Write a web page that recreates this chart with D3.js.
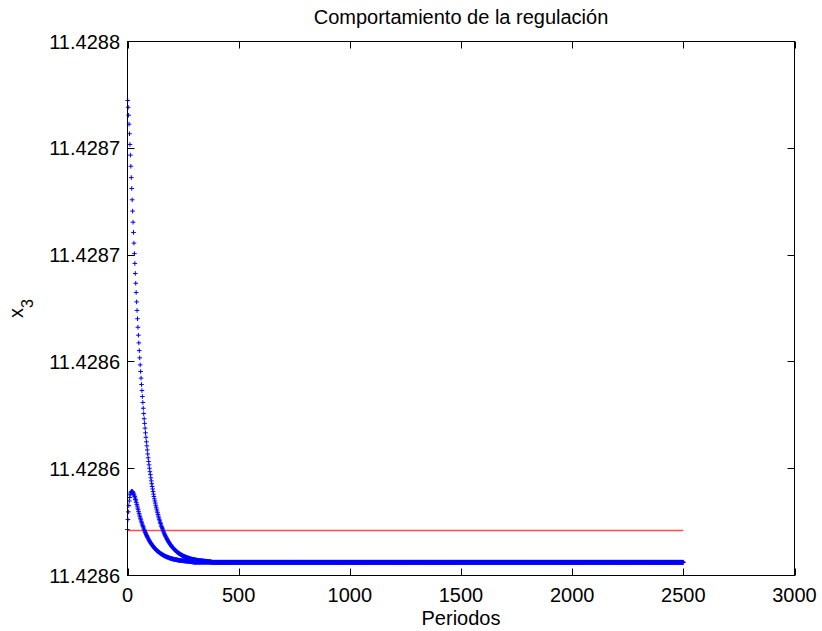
<!DOCTYPE html>
<html>
<head>
<meta charset="utf-8">
<script src="https://cdn.jsdelivr.net/npm/d3@7"></script>
<style>
  html, body { margin: 0; padding: 0; background: #fff; }
  svg { display: block; }
  text { font-family: "Liberation Sans", Arial, Helvetica, sans-serif; fill: #000; }
</style>
</head>
<body>
<svg id="chart" width="822" height="631"></svg>
<script>
// ---------------- DATA ----------------
const titleText = "Comportamiento de la regulación";
const xLabelText = "Periodos";
const xTicks = [0, 500, 1000, 1500, 2000, 2500, 3000];
const xTickLabels = ["0", "500", "1000", "1500", "2000", "2500", "3000"];
const yTicks = [11.42855, 11.4286, 11.42865, 11.4287, 11.42875, 11.4288];
const yTickLabels = ["11.4286", "11.4286", "11.4286", "11.4287", "11.4287", "11.4288"];
const xDomain = [0, 3000];
const yDomain = [11.42855, 11.4288];

// x3 at odd periods 1,3,5,... (upper branch)
const upperBranch = [
 11.4287724, 11.4287692, 11.4287655, 11.4287613, 11.4287568, 11.4287518, 11.4287468, 11.4287416, 11.4287363, 11.4287312,
 11.4287259, 11.4287206, 11.4287154, 11.4287106, 11.4287056, 11.4287007, 11.4286961, 11.4286914, 11.4286868, 11.4286825,
 11.4286781, 11.4286741, 11.4286702, 11.4286662, 11.4286625, 11.4286589, 11.4286553, 11.4286519, 11.4286486, 11.4286455,
 11.4286424, 11.4286394, 11.4286366, 11.4286338, 11.4286310, 11.4286283, 11.4286258, 11.4286234, 11.4286212, 11.4286190,
 11.4286168, 11.4286147, 11.4286126, 11.4286107, 11.4286088, 11.4286069, 11.4286051, 11.4286034, 11.4286018, 11.4286002,
 11.4285986, 11.4285972, 11.4285957, 11.4285943, 11.4285930, 11.4285917, 11.4285905, 11.4285893, 11.4285881, 11.4285870,
 11.4285859, 11.4285849, 11.4285839, 11.4285829, 11.4285820, 11.4285811, 11.4285802, 11.4285794, 11.4285786, 11.4285778,
 11.4285770, 11.4285763, 11.4285756, 11.4285749, 11.4285743, 11.4285736, 11.4285730, 11.4285724, 11.4285719, 11.4285713,
 11.4285708, 11.4285703, 11.4285698, 11.4285693, 11.4285688, 11.4285684, 11.4285680, 11.4285676, 11.4285672, 11.4285668,
 11.4285664, 11.4285661, 11.4285657, 11.4285654, 11.4285651, 11.4285647, 11.4285644, 11.4285642, 11.4285639, 11.4285636,
 11.4285634, 11.4285631, 11.4285629, 11.4285626, 11.4285624, 11.4285622, 11.4285620, 11.4285618, 11.4285616, 11.4285614,
 11.4285612, 11.4285610, 11.4285609, 11.4285607, 11.4285605, 11.4285604, 11.4285602, 11.4285601, 11.4285600, 11.4285598,
 11.4285597, 11.4285596, 11.4285595, 11.4285594, 11.4285592, 11.4285591, 11.4285590, 11.4285589, 11.4285588, 11.4285587,
 11.4285587, 11.4285586, 11.4285585, 11.4285584, 11.4285583, 11.4285583, 11.4285582, 11.4285581, 11.4285580, 11.4285580,
 11.4285579, 11.4285579, 11.4285578, 11.4285577, 11.4285577, 11.4285576, 11.4285576, 11.4285575, 11.4285575, 11.4285574,
 11.4285574, 11.4285574, 11.4285573, 11.4285573, 11.4285572, 11.4285572, 11.4285572, 11.4285571, 11.4285571, 11.4285571,
 11.4285570, 11.4285570, 11.4285570, 11.4285570, 11.4285569, 11.4285569, 11.4285569, 11.4285569, 11.4285568, 11.4285568,
 11.4285568, 11.4285568, 11.4285567, 11.4285567, 11.4285567, 11.4285567, 11.4285567, 11.4285566, 11.4285566, 11.4285566,
 11.4285566, 11.4285565, 11.4285565, 11.4285565, 11.4285565, 11.4285564, 11.4285564, 11.4285564, 11.4285563, 11.4285563
];

// x3 at even periods 0,2,4,... (lower branch)
const lowerBranch = [
 11.4285715, 11.4285762, 11.4285798, 11.4285827, 11.4285849, 11.4285865, 11.4285878, 11.4285886, 11.4285891, 11.4285893,
 11.4285894, 11.4285893, 11.4285890, 11.4285886, 11.4285881, 11.4285876, 11.4285870, 11.4285863, 11.4285856, 11.4285849,
 11.4285841, 11.4285833, 11.4285825, 11.4285816, 11.4285808, 11.4285799, 11.4285791, 11.4285783, 11.4285775, 11.4285768,
 11.4285761, 11.4285754, 11.4285747, 11.4285741, 11.4285735, 11.4285729, 11.4285723, 11.4285717, 11.4285712, 11.4285707,
 11.4285702, 11.4285697, 11.4285692, 11.4285687, 11.4285683, 11.4285679, 11.4285675, 11.4285671, 11.4285667, 11.4285663,
 11.4285660, 11.4285656, 11.4285653, 11.4285650, 11.4285647, 11.4285644, 11.4285641, 11.4285638, 11.4285635, 11.4285633,
 11.4285630, 11.4285628, 11.4285626, 11.4285624, 11.4285621, 11.4285619, 11.4285617, 11.4285615, 11.4285613, 11.4285612,
 11.4285610, 11.4285608, 11.4285607, 11.4285605, 11.4285604, 11.4285602, 11.4285601, 11.4285599, 11.4285598, 11.4285597,
 11.4285596, 11.4285594, 11.4285593, 11.4285592, 11.4285591, 11.4285590, 11.4285589, 11.4285588, 11.4285587, 11.4285586,
 11.4285586, 11.4285585, 11.4285584, 11.4285583, 11.4285582, 11.4285582, 11.4285581, 11.4285580, 11.4285580, 11.4285579,
 11.4285578, 11.4285578, 11.4285577, 11.4285577, 11.4285576, 11.4285576, 11.4285575, 11.4285575, 11.4285574, 11.4285574,
 11.4285574, 11.4285573, 11.4285573, 11.4285572, 11.4285572, 11.4285572, 11.4285571, 11.4285571, 11.4285571, 11.4285570,
 11.4285570, 11.4285570, 11.4285570, 11.4285569, 11.4285569, 11.4285569, 11.4285569, 11.4285568, 11.4285568, 11.4285568,
 11.4285568, 11.4285567, 11.4285567, 11.4285567, 11.4285567, 11.4285567, 11.4285566, 11.4285566, 11.4285566, 11.4285566,
 11.4285565, 11.4285565, 11.4285565, 11.4285565, 11.4285564, 11.4285564, 11.4285564, 11.4285563, 11.4285563
];

// settled value of x3 after the transient, and the last period plotted
const steadyValue = 11.4285562;
const lastPeriod = 2500;
// reference (set-point) line
const referenceValue = 11.4285715;
const referencePeriods = [0, 2500];

// ---------------- LAYOUT ----------------
const svg = d3.select("#chart");
const L = 127.5, R = 794.5, T = 41.5, B = 575.5;
const x = d3.scaleLinear().domain(xDomain).range([L, R]);
const y = d3.scaleLinear().domain(yDomain).range([B, T]);

// build the x3 series per period from the branches
const series = d3.range(0, lastPeriod + 1).map(t => {
  let v;
  if (t % 2 === 0) { const j = t / 2; v = j < lowerBranch.length ? lowerBranch[j] : steadyValue; }
  else { const i = (t - 1) / 2; v = i < upperBranch.length ? upperBranch[i] : steadyValue; }
  return { t, v };
});

svg.append("rect").attr("x", 0).attr("y", 0).attr("width", 822).attr("height", 631).attr("fill", "#fff");

const clipId = "plotclip";
svg.append("clipPath").attr("id", clipId).append("rect")
  .attr("x", L - 4).attr("y", T - 4).attr("width", R - L + 8).attr("height", B - T + 8);

const plot = svg.append("g").attr("clip-path", `url(#${clipId})`);

// reference line
plot.append("path")
  .datum(referencePeriods.map(p => ({ t: p, v: referenceValue })))
  .attr("d", d3.line().x(d => x(d.t)).y(d => Math.round(y(d.v)) + 0.5))
  .attr("fill", "none").attr("stroke", "#ff4d4d").attr("stroke-width", 1.4);

// blue '+' markers
const s = 2.3;
plot.append("g").selectAll("path").data(series).join("path")
  .attr("transform", d => `translate(${x(d.t)},${y(d.v)})`)
  .attr("d", `M${-s},0H${s}M0,${-s}V${s}`)
  .attr("stroke", "#0000ff").attr("stroke-width", 1).attr("fill", "none");

// ---------------- AXES ----------------
const tickLen = 7;
const axes = svg.append("g");
axes.append("rect").attr("x", L).attr("y", T).attr("width", R - L).attr("height", B - T)
  .attr("fill", "none").attr("stroke", "#000").attr("stroke-width", 1);

const xt = axes.append("g");
xTicks.forEach((v, k) => {
  const px = Math.round(x(v)) + 0.5;
  xt.append("line").attr("x1", px).attr("x2", px).attr("y1", B).attr("y2", B - tickLen).attr("stroke", "#000");
  xt.append("line").attr("x1", px).attr("x2", px).attr("y1", T).attr("y2", T + tickLen).attr("stroke", "#000");
  xt.append("text").attr("x", x(v)).attr("y", 602).attr("text-anchor", "middle")
    .attr("font-size", 20).text(xTickLabels[k]);
});

const yt = axes.append("g");
yTicks.forEach((v, k) => {
  const py = Math.round(y(v) - 0.5) + 0.5;
  yt.append("line").attr("x1", L).attr("x2", L + tickLen).attr("y1", py).attr("y2", py).attr("stroke", "#000");
  yt.append("line").attr("x1", R).attr("x2", R - tickLen).attr("y1", py).attr("y2", py).attr("stroke", "#000");
  yt.append("text").attr("x", 120).attr("y", y(v) + 7).attr("text-anchor", "end")
    .attr("font-size", 20).text(yTickLabels[k]);
});

svg.append("text").attr("x", (L + R) / 2).attr("y", 24).attr("text-anchor", "middle")
  .attr("font-size", 20).text(titleText);

svg.append("text").attr("x", (L + R) / 2).attr("y", 625).attr("text-anchor", "middle")
  .attr("font-size", 20).text(xLabelText);

const yl = svg.append("text").attr("transform", "translate(23,318) rotate(-90)")
  .attr("text-anchor", "start").attr("font-size", 20);
yl.append("tspan").text("x");
yl.append("tspan").attr("font-size", 16).attr("dy", 10).text("3");
</script>
</body>
</html>
